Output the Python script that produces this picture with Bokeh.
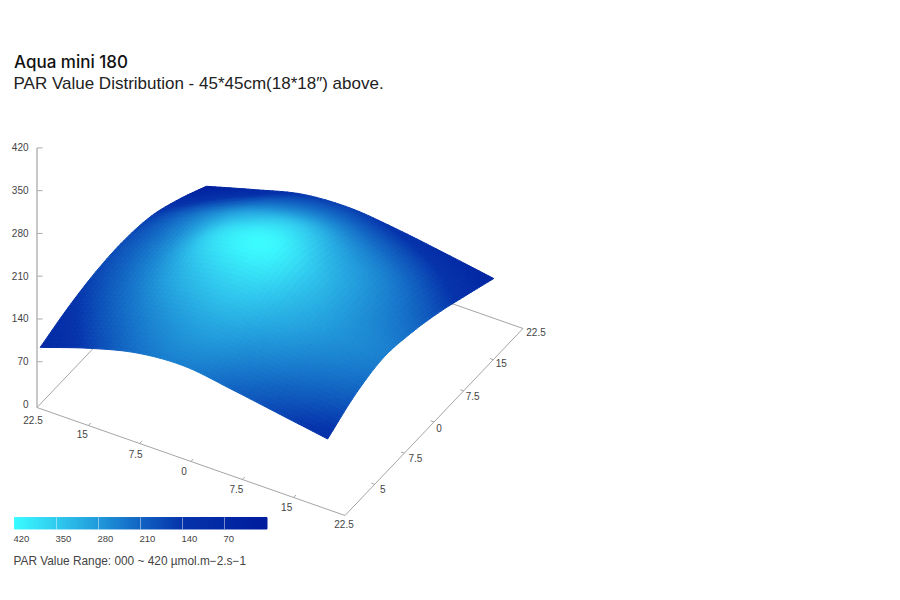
from bokeh.plotting import figure
from bokeh.core.properties import value
from bokeh.embed import file_html
from bokeh.resources import INLINE
import numpy as np

title_main = "Aqua mini 180"
title_sub = "PAR Value Distribution - 45*45cm(18*18\u2033) above."
range_note = "PAR Value Range: 000 ~ 420 \u00b5mol.m\u22122.s\u22121"

z_ticks = [0, 70, 140, 210, 280, 350, 420]
front_labels = ["22.5", "15", "7.5", "0", "7.5", "15", "22.5"]
side_labels = ["5", "7.5", "0", "7.5", "15", "22.5"]
legend_labels = ["420", "350", "280", "210", "140", "70"]

surface_x = [-22.5, -15.5, -8.5, -1.5, 5.5, 12.5, 19.5]
surface_y = [-21.7, -14.7, -7.7, -0.7, 6.3, 13.3, 20.3]
# rows follow surface_y, columns follow surface_x
par_row_0 = [93, 119, 139, 145, 134, 121, 108]
par_row_1 = [110, 134, 152, 160, 151, 141, 133]
par_row_2 = [121, 145, 170, 179, 166, 153, 145]
par_row_3 = [124, 150, 186, 197, 172, 152, 138]
par_row_4 = [117, 145, 170, 180, 160, 144, 124]
par_row_5 = [97, 122, 142, 148, 138, 124, 105]
par_row_6 = [71, 93, 113, 118, 110, 98, 85]
par_table = np.array([par_row_0, par_row_1, par_row_2, par_row_3, par_row_4, par_row_5, par_row_6], dtype=float)

ramp_pos = [0.0, 0.16, 0.33, 0.5, 0.66, 1.0]
ramp_r = [60, 50, 34, 18, 6, 0]
ramp_g = [252, 205, 155, 100, 52, 30]
ramp_b = [255, 240, 220, 195, 172, 158]

# floor projection: screen position of the plot box
ORIGIN = np.array([36.5, 407.0])
AX_U = np.array([308.0, 108.0])
AX_V = np.array([178.0, -187.0])
Z_PX = 0.611


def project(x, y, z):
    u = (np.asarray(x, float) + 22.5) / 45.0
    v = (np.asarray(y, float) + 22.5) / 45.0
    return (ORIGIN[0] + u * AX_U[0] + v * AX_V[0],
            ORIGIN[1] + u * AX_U[1] + v * AX_V[1] - Z_PX * np.asarray(z, float))


def hex_of(t):
    # t=0 -> first ramp colour (largest)
    r = np.interp(t, ramp_pos, ramp_r)
    g = np.interp(t, ramp_pos, ramp_g)
    b = np.interp(t, ramp_pos, ramp_b)
    return "#%02x%02x%02x" % (int(r), int(g), int(b))


def cr_weights(s):
    return np.array([-0.5*s+s*s-0.5*s**3, 1-2.5*s*s+1.5*s**3, 0.5*s+2*s*s-1.5*s**3, -0.5*s*s+0.5*s**3])


def fine_axis(n_nodes, sub):
    out = []
    for c in range(n_nodes - 1):
        for k in range(sub):
            out.append((c, k / sub))
    out.append((n_nodes - 2, 1.0))
    return out


def smooth(table, sub):
    n, m = table.shape
    ex = np.pad(table, 1, mode="reflect", reflect_type="odd")
    ya, xa = fine_axis(n, sub), fine_axis(m, sub)
    out = np.zeros((len(ya), len(xa)))
    for a, (cy, sy) in enumerate(ya):
        wy = cr_weights(sy)
        for b, (cx, sx) in enumerate(xa):
            wx = cr_weights(sx)
            out[a, b] = wy @ ex[cy:cy+4, cx:cx+4] @ wx
    return out


p = figure(width=884, height=584, x_range=(0, 884), y_range=(584, 0), output_backend="svg",
           toolbar_location=None, min_border=0, outline_line_color=None, background_fill_color="white")
p.axis.visible = False
p.grid.visible = False

# floor back edges
bx, by = project([-22.5, -22.5, 22.5], [-22.5, 22.5, 22.5], [0, 0, 0])
p.line(bx, by, line_color="#a5a5a5", line_width=1)

# surface
SUB = 10
fine = smooth(par_table, SUB)
vmin, vmax = par_table.min(), fine.max()
gx = np.interp(np.linspace(0, 6, fine.shape[1]), np.arange(7), surface_x)
gy = np.interp(np.linspace(0, 6, fine.shape[0]), np.arange(7), surface_y)
xs, ys, cols = [], [], []
for a in range(fine.shape[0] - 2, -1, -1):
    for b in range(fine.shape[1] - 1):
        X = [gx[b], gx[b+1], gx[b+1], gx[b]]
        Y = [gy[a], gy[a], gy[a+1], gy[a+1]]
        Z = [fine[a, b], fine[a, b+1], fine[a+1, b+1], fine[a+1, b]]
        sx, sy = project(X, Y, Z)
        xs.append(np.round(sx, 2).tolist()); ys.append(np.round(sy, 2).tolist())
        cols.append(hex_of(1 - (np.mean(Z) - vmin) / (vmax - vmin)))
p.patches(xs, ys, fill_color=cols, line_color=cols, line_width=1)

# floor front edges
fx, fy = project([-22.5, 22.5, 22.5], [-22.5, -22.5, 22.5], [0, 0, 0])
p.line(fx, fy, line_color="#a5a5a5", line_width=1)

TICK = 3.5
T = np.linspace(-22.5, 22.5, 7)
# front edge ticks
fa, fb = project(T, -22.5 * np.ones(7), np.zeros(7))
dv = AX_V / np.linalg.norm(AX_V) * TICK
p.segment(fa[1:-1], fb[1:-1], fa[1:-1] + dv[0], fb[1:-1] + dv[1], line_color="#a5a5a5", line_width=1)
# side edge ticks
sa, sb = project(22.5 * np.ones(7), T, np.zeros(7))
du = -AX_U / np.linalg.norm(AX_U) * TICK
p.segment(sa[1:-1], sb[1:-1], sa[1:-1] + du[0], sb[1:-1] + du[1], line_color="#a5a5a5", line_width=1)

TXT = "#444444"
FONT = value("Liberation Sans")
p.text(fa + np.array([-4, -6, -4, -7, -6, -7, -1]), fb + np.array([12, 8, 10, 9, 9, 9, 8]), text=front_labels,
       text_font=FONT, text_font_size="10px", text_color=TXT, text_align="center", text_baseline="middle")
p.text(sa[1:] + np.array([8, 11, 5, 9, 8, 13]), sb[1:] + np.array([5, 5, 5.5, 5, 3, 3]), text=side_labels,
       text_font=FONT, text_font_size="10px", text_color=TXT, text_align="center", text_baseline="middle")

# vertical axis
zy = ORIGIN[1] - 3 - Z_PX * np.array(z_ticks, float)
p.line([ORIGIN[0], ORIGIN[0]], [ORIGIN[1], zy[-1]], line_color="#ababab", line_width=1.3)
p.segment(np.full(6, ORIGIN[0]), zy[1:], np.full(6, ORIGIN[0] + 5.5), zy[1:], line_color="#ababab", line_width=1)
p.text(np.full(7, 28.0), zy - 0.5, text=[str(t) for t in z_ticks], text_font=FONT, text_font_size="10px",
       text_color=TXT, text_align="right", text_baseline="middle")

# colour bar
L0, L1, LW = 14.0, 266.5, 42.0
edges = np.linspace(L0, L1, 254)
bar_cols = [hex_of((e - L0) / (L1 - L0)) for e in edges[:-1]]
p.quad(left=edges[:-1], right=edges[1:], top=517, bottom=528.5, line_color=bar_cols, line_width=1,
       fill_color=bar_cols)
sep = L0 + LW * np.arange(1, 6)
p.segment(sep, np.full(5, 517), sep, np.full(5, 528.5), line_color="white", line_alpha=0.45, line_width=1)
p.text(L0 - 1 + LW * np.arange(6), np.full(6, 538.5), text=legend_labels, text_font=FONT, text_font_size="9.5px",
       text_color=TXT, text_align="left", text_baseline="middle")
p.text([13], [560.5], text=[range_note], text_font=FONT, text_font_size="11.85px", text_color=TXT,
       text_align="left", text_baseline="middle")

# titles
p.text([13.5], [61], text=[title_main], text_font=value("Inter Medium"), text_font_size="17px", text_color="#111111",
       text_align="left", text_baseline="middle")
p.text([13], [83], text=[title_sub], text_font=FONT, text_font_size="17px", text_color="#222222",
       text_align="left", text_baseline="middle")

open("out.html", "w").write(file_html(p, INLINE))
